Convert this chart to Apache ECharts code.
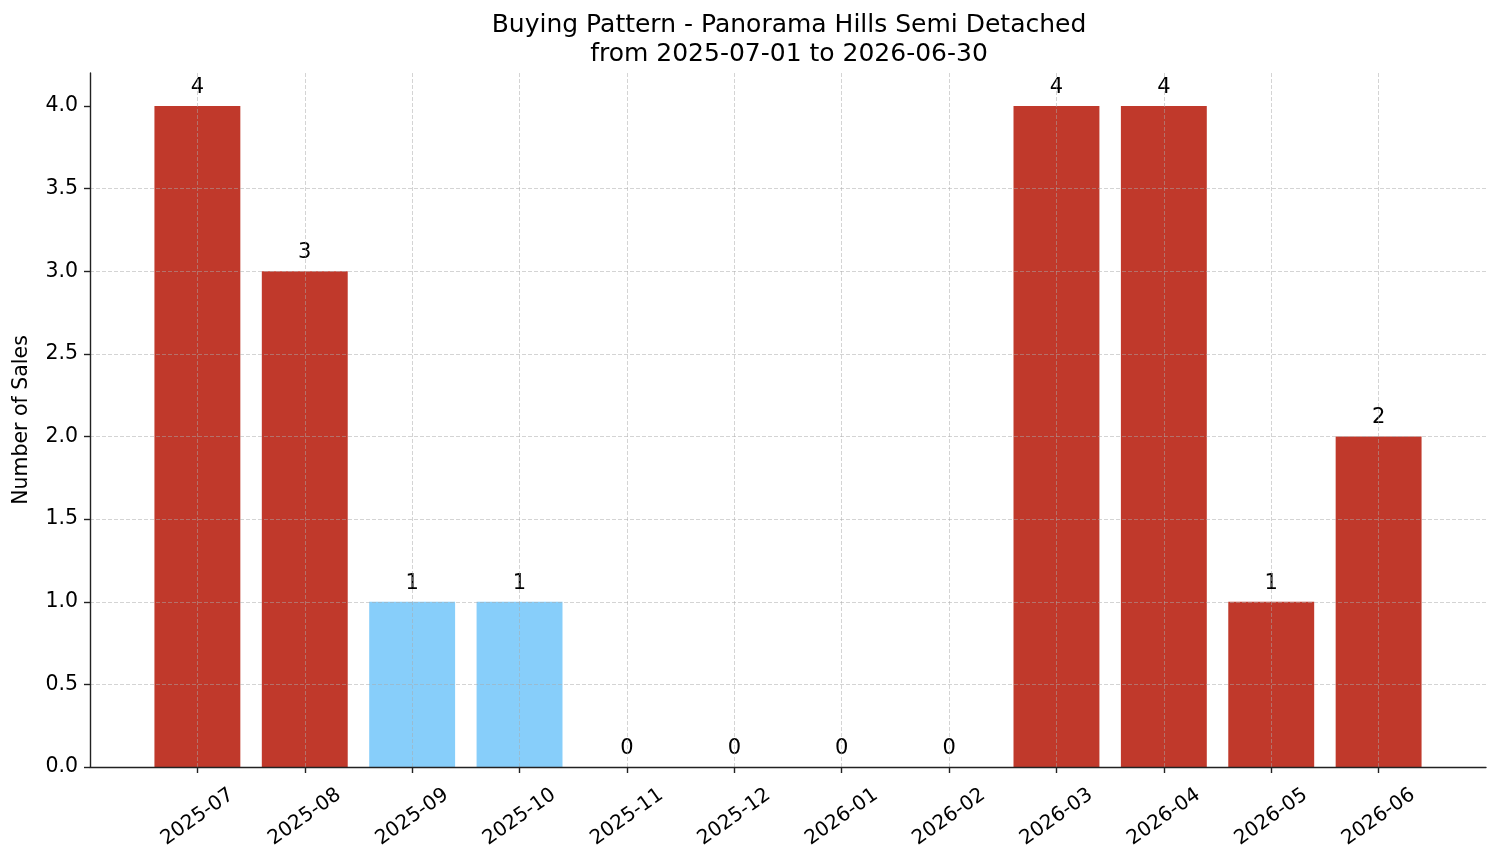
<!DOCTYPE html>
<html>
<head>
    <meta charset="utf-8">
    <title>Buying Pattern</title>
    <script src="https://cdn.jsdelivr.net/npm/echarts@6/dist/echarts.min.js"></script>
    <style type="text/css">
        * { margin: 0; padding: 0; }
        body { background: #fff; }
    </style>
</head>
<body>
<div id="main" style="width: 1501px; height: 863px;"></div>
<script type="text/javascript">
    // data
    var months = ['2025-07', '2025-08', '2025-09', '2025-10', '2025-11', '2025-12',
                  '2026-01', '2026-02', '2026-03', '2026-04', '2026-05', '2026-06'];
    var sales = [4, 3, 1, 1, 0, 0, 0, 0, 4, 4, 1, 2];
    var barColors = ['#c0392b', '#c0392b', '#87cefa', '#87cefa', '#c0392b', '#c0392b',
                     '#c0392b', '#c0392b', '#c0392b', '#c0392b', '#c0392b', '#c0392b'];
    var yTicks = [0, 0.5, 1, 1.5, 2, 2.5, 3, 3.5, 4];

    var font = 'DejaVu Sans';
    var axisColor = '#222';

    // empty slot at each end so the months sit one band in from the edges
    var xCats = [''].concat(months, ['']);
    var barData = [null];
    for (var i = 0; i < sales.length; i++) {
        barData.push({ value: sales[i], itemStyle: { color: barColors[i] } });
    }
    barData.push(null);

    function inner(idx) { return idx > 0 && idx < xCats.length - 1; }

    var gridStyle = { color: 'rgba(170,170,170,0.5)', type: [4, 2], width: 1 };

    var myChart = echarts.init(document.getElementById('main'));
    var option = {
        animation: false,
        backgroundColor: '#fff',
        title: {
            text: 'Buying Pattern - Panorama Hills Semi Detached\nfrom 2025-07-01 to 2026-06-30',
            left: 784,
            textAlign: 'center',
            top: 6,
            textStyle: { fontFamily: font, fontSize: 25, fontWeight: 'normal', color: '#000', lineHeight: 29 }
        },
        grid: { left: 90, right: 15, top: 73, bottom: 96 },
        xAxis: {
            type: 'category',
            data: xCats,
            boundaryGap: false,
            z: 5,
            axisLine: { lineStyle: { color: axisColor, width: 1.4 } },
            axisTick: { interval: inner, length: 6, lineStyle: { color: axisColor, width: 1.4 } },
            axisLabel: {
                interval: inner,
                rotate: 35,
                align: 'center',
                verticalAlign: 'middle',
                margin: 50,
                fontFamily: font,
                fontSize: 20,
                color: '#000'
            },
            splitLine: { show: true, interval: inner, lineStyle: gridStyle }
        },
        yAxis: {
            type: 'value',
            min: 0,
            max: 4.2,
            interval: 0.5,
            z: 5,
            name: 'Number of Sales',
            nameLocation: 'middle',
            nameGap: 58,
            nameTextStyle: { fontFamily: font, fontSize: 20.5, color: '#000' },
            axisLine: { show: true, lineStyle: { color: axisColor, width: 1.4 } },
            axisTick: { show: true, length: 6, customValues: yTicks, lineStyle: { color: axisColor, width: 1.4 } },
            axisLabel: {
                customValues: yTicks,
                margin: 12,
                fontFamily: font,
                fontSize: 20.5,
                color: '#000',
                formatter: function (v) { return v.toFixed(1); }
            },
            splitLine: { show: true, showMaxLine: false, lineStyle: gridStyle }
        },
        series: [{
            type: 'bar',
            data: barData,
            barWidth: '80%',
            label: {
                show: true,
                position: 'top',
                distance: 8,
                fontFamily: font,
                fontSize: 21,
                color: '#000'
            }
        }]
    };
    myChart.setOption(option);
</script>
</body>
</html>
